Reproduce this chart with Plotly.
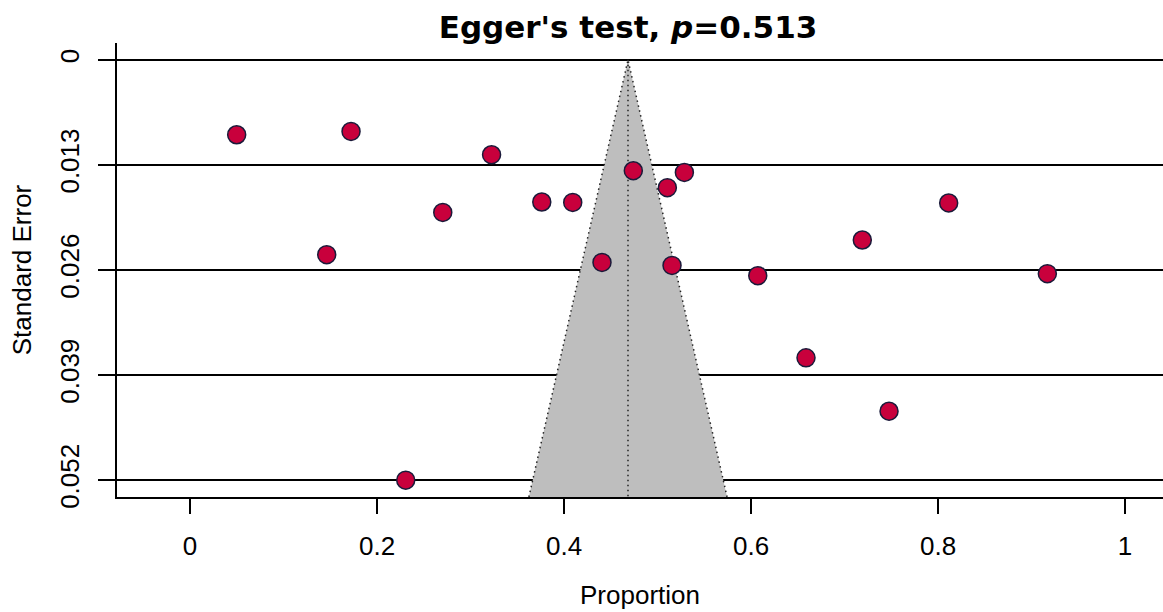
import plotly.graph_objects as go

# Data
proportion = [0.0499, 0.1722, 0.3225, 0.4741, 0.5287, 0.5105, 0.3762, 0.4093,
              0.2703, 0.4406, 0.5155, 0.6072, 0.8114, 0.7190, 0.9169, 0.6588,
              0.7476, 0.1462, 0.2307]
std_error = [0.00927, 0.00886, 0.01174, 0.01372, 0.01393, 0.01582, 0.01759, 0.01764,
             0.01888, 0.02506, 0.02543, 0.02670, 0.01771, 0.02229, 0.02645, 0.03687,
             0.04347, 0.02410, 0.05200]
pooled_estimate = 0.4684
crit_value = 1.96
se_limits = [0.0, 0.05408]
se_axis_top = -0.00208
x_limits = [-0.0781, 1.0406]
y_tick_vals = [0, 0.013, 0.026, 0.039, 0.052]
y_tick_text = ["0", "0.013", "0.026", "0.039", "0.052"]
x_tick_vals = [0, 0.2, 0.4, 0.6, 0.8, 1.0]
x_tick_text = ["0", "0.2", "0.4", "0.6", "0.8", "1"]
title_text = "<b>Egger's test, <i>p</i>=0.513</b>"

se_top, se_bot = se_limits
funnel_x = [pooled_estimate - crit_value * se_bot, pooled_estimate,
            pooled_estimate + crit_value * se_bot]
funnel_y = [se_bot, se_top, se_bot]

dot_style = dict(color="#222222", width=1.5, dash="1.5px,3.5px")

fig = go.Figure()
fig.add_trace(go.Scatter(
    x=funnel_x + [funnel_x[0]], y=funnel_y + [funnel_y[0]],
    mode="lines", fill="toself", fillcolor="#BEBEBE",
    line=dict(width=0), hoverinfo="skip", showlegend=False))
fig.add_trace(go.Scatter(
    x=funnel_x, y=funnel_y, mode="lines", line=dot_style,
    hoverinfo="skip", showlegend=False))
fig.add_trace(go.Scatter(
    x=[pooled_estimate, pooled_estimate], y=[se_top, se_bot], mode="lines",
    line=dot_style, hoverinfo="skip", showlegend=False))
fig.add_trace(go.Scatter(
    x=proportion, y=std_error, mode="markers",
    marker=dict(size=18, color="#C8003C", line=dict(color="#1A1A3A", width=1.5)),
    showlegend=False))

axis_font = dict(family="Liberation Sans, Arial, sans-serif", size=26, color="black")

fig.update_layout(
    width=1163, height=612,
    margin=dict(l=117, r=0, t=43, b=115),
    paper_bgcolor="white", plot_bgcolor="white",
    title=dict(text=title_text, x=628 / 1163, xref="container", xanchor="center",
               y=1 - 27 / 612, yref="container", yanchor="middle",
               font=dict(family="DejaVu Sans, Verdana, sans-serif", size=31, color="black")),
    xaxis=dict(range=x_limits, tickvals=x_tick_vals, ticktext=x_tick_text,
               ticks="outside", ticklen=15, tickwidth=1.5, tickcolor="black",
               ticklabelstandoff=10,
               showline=True, linecolor="black", linewidth=1.5,
               showgrid=False, zeroline=False, tickfont=axis_font,
               title=dict(text="Proportion", font=axis_font, standoff=26)),
    yaxis=dict(range=[se_limits[1], se_axis_top], tickvals=y_tick_vals,
               ticktext=y_tick_text, tickangle=-90,
               ticks="outside", ticklen=17, tickwidth=1.5, tickcolor="black",
               ticklabelstandoff=9,
               showline=True, linecolor="black", linewidth=1.5,
               showgrid=True, gridcolor="black", gridwidth=1.5,
               zeroline=False, tickfont=axis_font,
               title=dict(text="Standard Error", font=axis_font, standoff=16)),
)

fig.write_html("out.html", config={"displayModeBar": False},
               post_script="document.body.style.margin='0';document.body.style.overflow='hidden';")
